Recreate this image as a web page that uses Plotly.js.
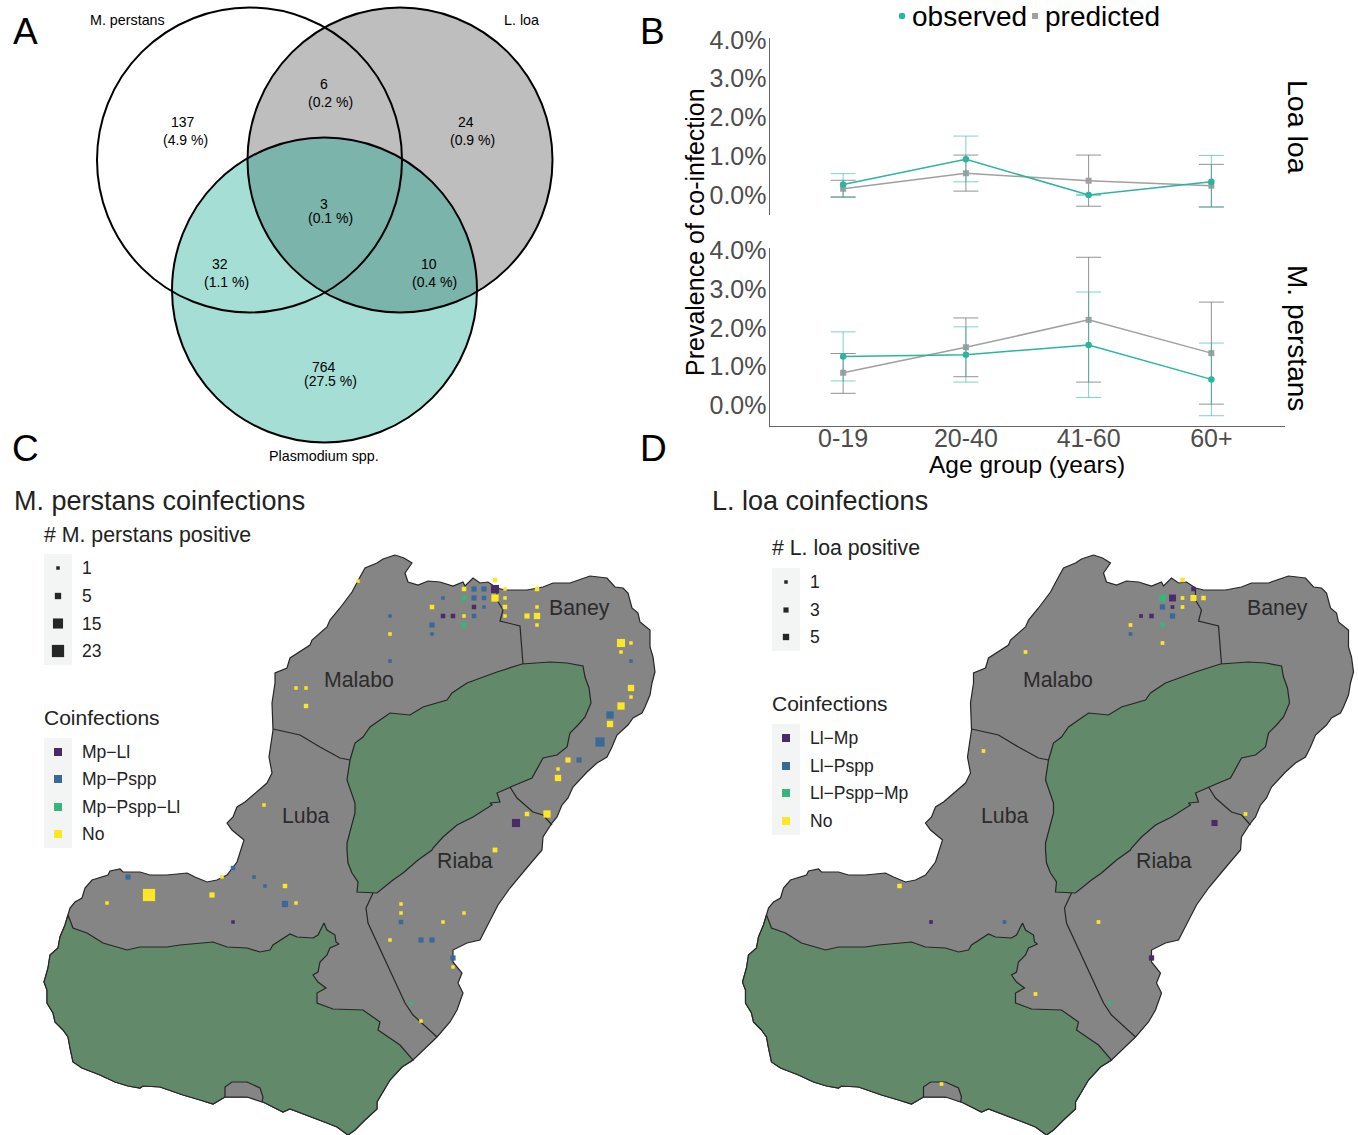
<!DOCTYPE html>
<html><head><meta charset="utf-8">
<script src="https://cdn.plot.ly/plotly-3.0.1.min.js"></script>
<style>html,body{margin:0;padding:0;background:#fff}</style></head>
<body><div id="chart" style="width:1358px;height:1135px"></div>
<script>
// ---------- Panel B data (percent) ----------
const ageGroups = ['0-19','20-40','41-60','60+'];
const loaObserved = [0.27,0.92,0.00,0.34];
const loaObservedHi = [0.55,1.52,0.00,1.02];
const loaObservedLo = [-0.04,0.34,0.00,-0.31];
const loaPredicted = [0.16,0.56,0.37,0.24];
const loaPredictedHi = [0.38,1.03,1.03,0.79];
const loaPredictedLo = [-0.06,0.10,-0.29,-0.31];
const mpObserved = [1.26,1.31,1.56,0.67];
const mpObservedHi = [1.90,2.03,2.93,1.61];
const mpObservedLo = [0.63,0.60,0.20,-0.27];
const mpPredicted = [0.84,1.50,2.21,1.35];
const mpPredictedHi = [1.34,2.26,3.83,2.67];
const mpPredictedLo = [0.31,0.74,0.60,0.03];
const percentTicks = [0,1,2,3,4];
const percentLabels = ['0.0%','1.0%','2.0%','3.0%','4.0%'];

// ---------- Panel A data ----------
const vennCounts = ['137','6','24','3','32','10','764'];
const vennShares = ['(4.9 %)','(0.2 %)','(0.9 %)','(0.1 %)','(1.1 %)','(0.4 %)','(27.5 %)'];
const vennCountX = [183,324,466,324,220,429,324];
const vennCountY = [122,84,122,204,264,264,367];
const vennShareX = [185,330,472,330,226,434,330];
const vennShareY = [140,102,140,218,282,282,381];
const vennCircleX = [249.5,400,324.5];
const vennCircleY = [160,160,290];
const vennRadius = 152.5;

// ---------- Map outlines (map units) ----------
const coastX = [395,404,412,405,408,418,428,440,453,463,465,473,480,488,497,505,527,543,553,570,590,607,615,623,628,632,638,640,650,650,653,655,652,650,645,642,633,628,617,612,607,597,587,578,573,568,562,557,552,543,542,525,510,498,488,480,467,453,453,462,458,463,457,450,437,413,402,390,377,377,365,355,348,337,327,307,290,283,263,253,247,225,220,213,200,183,160,143,140,128,115,100,82,73,70,68,63,55,53,47,47,44,48,50,58,60,65,68,70,75,82,85,92,108,110,120,123,140,150,167,187,195,207,217,227,237,242,244,232,227,233,237,245,267,272,269,273,272,275,275,287,290,310,312,327,330,340,352,360,365,377,383,395];
const coastY = [555,558,563,573,582,585,581,582,586,582,586,578,583,582,588,590,590,587,583,583,576,578,587,588,593,608,613,622,630,647,657,672,683,695,707,713,718,725,735,747,757,763,772,782,787,798,805,817,823,837,850,870,888,905,925,940,943,950,962,973,983,993,1010,1022,1037,1060,1067,1080,1102,1109,1120,1130,1135,1127,1123,1115,1109,1112,1102,1098,1097,1097,1100,1104,1100,1095,1087,1086,1088,1086,1082,1075,1068,1062,1048,1037,1030,1022,1013,1003,990,982,968,955,948,937,925,915,908,902,898,888,880,875,871,869,872,872,875,875,873,877,882,880,875,862,847,840,830,823,817,807,802,783,773,757,730,703,683,673,668,658,645,640,627,620,608,592,577,568,563,559,555];
const northReserveX = [522,550,567,583,585,589,591,585,578,570,567,557,543,538,532,520,510,497,500,490,492,473,457,443,433,432,418,403,393,377,357,358,352,348,347,347,355,355,347,350,355,363,370,390,410,423,447,452,467,497,522];
const northReserveY = [664,662,663,666,677,688,703,717,725,733,747,755,758,767,778,783,787,793,802,803,805,817,825,837,848,850,860,873,880,893,892,882,873,863,850,843,813,803,780,760,743,737,727,713,715,707,700,693,683,672,664];
const southReserveX = [68,73,87,103,127,140,167,180,213,227,247,260,270,273,290,297,313,318,324,327,335,336,339,330,327,320,318,313,318,326,317,317,333,363,380,378,400,413,402,390,377,377,365,355,348,337,327,307,290,283,263,253,247,225,220,213,200,183,160,143,140,128,115,100,82,73,70,68,63,55,53,47,47,44,48,50,58,60,65,68];
const southReserveY = [915,928,933,943,950,947,947,945,942,947,948,952,950,945,934,937,938,935,923,930,935,942,944,948,955,962,972,975,982,988,993,1003,1009,1010,1022,1030,1045,1060,1067,1080,1102,1109,1120,1130,1135,1127,1123,1115,1109,1112,1102,1098,1097,1097,1100,1104,1100,1095,1087,1086,1088,1086,1082,1075,1068,1062,1048,1037,1030,1022,1013,1003,990,982,968,955,948,937,925,915];
const enclaveX = [225,225,232,247,260,263,262,247,225];
const enclaveY = [1097,1087,1082,1082,1088,1097,1102,1097,1097];
const border1X = [497,497,503,500,520,523];
const border1Y = [588,600,610,621,626,664];
const border2X = [273,287,300,320,340,350];
const border2Y = [729,732,735,747,758,760];
const border3X = [510,517,533,543,552];
const border3Y = [787,798,812,815,825];
const border4X = [373,366,368,390,405,413,437];
const border4Y = [893,908,923,970,1003,1015,1037];
const districtNames = ['Baney','Malabo','Luba','Riaba'];
const districtX = [579,359,306,465];
const districtY = [607.5,679.5,815.5,860.5];

// ---------- Panel C sites ----------
const cMpLlX = [495,443,453,474,516,233];
const cMpLlY = [589,616,616,607,823,922];
const cMpLlN = [9,2,2,2,9,1];
const cMpPsppX = [474,484,474,484,443,484,390,474,432,432,610,600,579,390,128,233,254,265,285,401,432,421,453,631];
const cMpPsppY = [589,589,598,598,598,607,616,616,625,634,715,742,760,661,877,868,877,886,904,922,940,940,958,661];
const cMpPsppN = [3,3,3,2,1,1,1,2,3,1,7,12,3,1,3,2,1,1,5,2,3,3,3,1];
const cTripleX = [464,464,411];
const cTripleY = [598,625,1003];
const cTripleN = [3,3,1];
const cNoX = [495,464,505,537,495,505,432,505,537,464,505,527,537,537,358,390,621,631,621,631,631,621,610,568,558,558,547,527,495,296,306,306,264,149,107,212,222,285,296,401,401,464,443,390,453,421,495];
const cNoY = [580,589,589,589,598,598,607,607,607,616,616,616,616,625,581,634,643,643,652,688,697,706,724,760,769,778,814,814,850,688,688,706,805,895,903,895,877,886,903,904,913,913,922,940,967,1021,850];
const cNoN = [2,2,1,2,7,1,2,2,1,1,1,3,5,1,1,1,9,1,1,5,1,7,5,3,1,5,7,2,2,1,1,2,1,23,1,3,1,2,1,1,1,1,1,1,1,1,2];

// ---------- Panel D sites ----------
const dLlMpX = [495,474,474,442.5,453,516,232.5,453];
const dLlMpY = [589,598,607,616,616,823,922,958];
const dLlMpN = [2,5,1,1,2,4,1,3];
const dLlPsppX = [464,474,432,306];
const dLlPsppY = [607,616,634,922];
const dLlPsppN = [3,3,1,1];
const dTripleX = [464,464,411];
const dTripleY = [598,625,1003];
const dTripleN = [5,2,1];
const dNoX = [484,484,495,505,484,432,464,327,285,547,201,400,337,243];
const dNoY = [580,598,598,598,607,625,643,652,751,814,886,922,994,1084];
const dNoN = [2,1,4,2,1,1,1,1,1,1,2,1,1,1];

// ---------- Legends ----------
const cSizeCounts = [1,5,15,23];
const dSizeCounts = [1,3,5];
const cCoinfLabels = ['Mp\u2212Ll','Mp\u2212Pspp','Mp\u2212Pspp\u2212Ll','No'];
const dCoinfLabels = ['Ll\u2212Mp','Ll\u2212Pspp','Ll\u2212Pspp\u2212Mp','No'];
const coinfColors = ['#4b2a68','#39699a','#38b57c','#fde725'];

const TEAL='#2ab5a0', GREY='#a0a0a0', LAND='#858585', RES='#628a6a', EDGE='#262626';
const FONT='"Liberation Sans", Arial, sans-serif';
const OFFX = 698.5;  // D panel origin on the page

const cSize = n => 2.3*Math.sqrt(n)+1.2;
const dSize = n => 2.9+0.8*n;

const traces=[], annotations=[], shapes=[];
function txt(text,x,y,size,color,opt){
  annotations.push(Object.assign({text,x,y,xref:'x',yref:'y',showarrow:false,xanchor:'center',yanchor:'middle',
    font:{family:FONT,size,color:color||'#000'},borderpad:0},opt||{}));
}
// ----- Panel A
shapes.push({type:'circle',xref:'x',yref:'y',layer:'below',x0:vennCircleX[1]-vennRadius,x1:vennCircleX[1]+vennRadius,y0:vennCircleY[1]-vennRadius,y1:vennCircleY[1]+vennRadius,fillcolor:'#bebebe',line:{width:0}});
shapes.push({type:'circle',xref:'x',yref:'y',layer:'below',x0:vennCircleX[2]-vennRadius,x1:vennCircleX[2]+vennRadius,y0:vennCircleY[2]-vennRadius,y1:vennCircleY[2]+vennRadius,fillcolor:'rgba(5,164,139,0.36)',line:{width:0}});
vennCircleX.forEach((cx,i)=>{
  shapes.push({type:'circle',xref:'x',yref:'y',layer:'below',x0:cx-vennRadius,x1:cx+vennRadius,y0:vennCircleY[i]-vennRadius,y1:vennCircleY[i]+vennRadius,fillcolor:'rgba(0,0,0,0)',line:{width:2,color:'#000'}});
});
vennCounts.forEach((t,i)=>{txt(t,vennCountX[i],vennCountY[i],14);txt(vennShares[i],vennShareX[i],vennShareY[i],14);});
txt('M. perstans',127,20,14.3);txt('L. loa',521,20,14.3);txt('Plasmodium spp.',324,456,14.3);
[['A',25,31],['B',652,31],['C',25,448],['D',653,448]].forEach(a=>txt(a[0],a[1],a[2],37));

// ----- Panel B
function series(y,hi,lo,color,errColor,sym,xa,ya,name,size){
  traces.push({type:'scatter',mode:'lines+markers',x:ageGroups,y:y,name,xaxis:xa,yaxis:ya,showlegend:false,hoverinfo:'skip',
    line:{color,width:1.5},marker:{color,size:size,symbol:sym,opacity:1},
    error_y:{type:'data',symmetric:false,array:hi.map((v,i)=>v-y[i]),arrayminus:y.map((v,i)=>v-lo[i]),color:errColor,thickness:1,width:12.5}});
}
const gErr='rgba(120,120,120,0.8)', tErr='rgba(42,181,160,0.6)';
series(loaPredicted,loaPredictedHi,loaPredictedLo,GREY,gErr,'square','x2','y2','predicted',6);
series(loaObserved,loaObservedHi,loaObservedLo,TEAL,tErr,'circle','x2','y2','observed',6.5);
series(mpPredicted,mpPredictedHi,mpPredictedLo,GREY,gErr,'square','x3','y3','predicted',6);
series(mpObserved,mpObservedHi,mpObservedLo,TEAL,tErr,'circle','x3','y3','observed',6.5);
txt('observed',969,16,28,'#000');txt('predicted',1102,16,28,'#000');
traces.push({type:'scatter',mode:'markers',x:[902],y:[16],marker:{color:TEAL,size:6.5,symbol:'circle',opacity:1},xaxis:'x',yaxis:'y',showlegend:false,hoverinfo:'skip'});
traces.push({type:'scatter',mode:'markers',x:[1035],y:[16],marker:{color:GREY,size:6,symbol:'square',opacity:1},xaxis:'x',yaxis:'y',showlegend:false,hoverinfo:'skip'});
txt('Prevalence of co-infection',695,232,25,'#000',{textangle:-90});
txt('Age group (years)',1027,464,24.5,'#000');
txt('Loa loa',1298,127,28.5,'#000',{textangle:90});
txt('M. perstans',1298,338,28,'#000',{textangle:90});

// ----- Map panels
function poly(xs,ys,fill,xa,width){
  traces.push({type:'scatter',mode:'lines',x:xs,y:ys,xaxis:xa,yaxis:'y',fill:fill?'toself':'none',fillcolor:fill||undefined,
    line:{color:EDGE,width:width||1.2},showlegend:false,hoverinfo:'skip'});
}
function map(xa){
  poly(coastX,coastY,LAND,xa);
  poly(northReserveX,northReserveY,RES,xa);
  poly(southReserveX,southReserveY,RES,xa);
  poly(enclaveX,enclaveY,LAND,xa);
  poly(border1X,border1Y,null,xa);poly(border2X,border2Y,null,xa);poly(border3X,border3Y,null,xa);poly(border4X,border4Y,null,xa);
}
function sites(xs,ys,ns,color,xa,scale){
  traces.push({type:'scatter',mode:'markers',x:xs,y:ys,xaxis:xa,yaxis:'y',showlegend:false,hoverinfo:'skip',
    marker:{symbol:'square',color,size:ns.map(scale),opacity:1,line:{width:0}}});
}
map('x');map('x4');
sites(cNoX,cNoY,cNoN,coinfColors[3],'x',cSize);
sites(cMpPsppX,cMpPsppY,cMpPsppN,coinfColors[1],'x',cSize);
sites(cTripleX,cTripleY,cTripleN,coinfColors[2],'x',cSize);
sites(cMpLlX,cMpLlY,cMpLlN,coinfColors[0],'x',cSize);
sites(dNoX,dNoY,dNoN,coinfColors[3],'x4',dSize);
sites(dLlPsppX,dLlPsppY,dLlPsppN,coinfColors[1],'x4',dSize);
sites(dTripleX,dTripleY,dTripleN,coinfColors[2],'x4',dSize);
sites(dLlMpX,dLlMpY,dLlMpN,coinfColors[0],'x4',dSize);
districtNames.forEach((n,i)=>{
  txt(n,districtX[i],districtY[i],21.3,'#2b2b2b');
  txt(n,districtX[i]+OFFX,districtY[i],21.3,'#2b2b2b');
});

// ----- Map legends
function legend(x0,titleText,titleX,sTitleText,sTitleY,sRows,sCounts,scale,cTitleY,cRows,cLabels){
  txt(titleText,titleX,501,27,'#222',{xanchor:'left'});
  txt(sTitleText,x0-1,sTitleY,21.3,'#222',{xanchor:'left'});
  txt('Coinfections',x0-1,cTitleY,21,'#222',{xanchor:'left'});
  shapes.push({type:'rect',xref:'x',yref:'y',layer:'below',x0:x0,x1:x0+28,y0:sRows[0]-14,y1:sRows[sRows.length-1]+14,fillcolor:'#f2f5f4',line:{width:0}});
  shapes.push({type:'rect',xref:'x',yref:'y',layer:'below',x0:x0,x1:x0+28,y0:cRows[0]-14,y1:cRows[cRows.length-1]+14,fillcolor:'#f2f5f4',line:{width:0}});
  traces.push({type:'scatter',mode:'markers',x:sRows.map(()=>x0+14),y:sRows,xaxis:'x',yaxis:'y',showlegend:false,hoverinfo:'skip',
    marker:{symbol:'square',color:'#262626',size:sCounts.map(scale),opacity:1,line:{width:0}}});
  traces.push({type:'scatter',mode:'markers',x:cRows.map(()=>x0+14),y:cRows,xaxis:'x',yaxis:'y',showlegend:false,hoverinfo:'skip',
    marker:{symbol:'square',color:coinfColors,size:8,opacity:1,line:{width:0}}});
  sCounts.forEach((c,i)=>txt(String(c),x0+37,sRows[i],17.5,'#222',{xanchor:'left'}));
  cLabels.forEach((c,i)=>txt(c,x0+37,cRows[i],17.5,'#222',{xanchor:'left'}));
}
legend(44,'M. perstans coinfections',13,'# M. perstans positive',534.5,[568,596,623.5,651],cSizeCounts,cSize,717.5,[752,779,807,834],cCoinfLabels);
legend(772,'L. loa coinfections',711,'# L. loa positive',547.5,[582,610,637],dSizeCounts,cSize,703.5,[738,766,793,821],dCoinfLabels);

const hidden={visible:false,fixedrange:true};
const bx={domain:[769.5/1358,1285/1358],range:[-0.6,3.6],type:'category',categoryorder:'array',categoryarray:ageGroups,fixedrange:true,showgrid:false,zeroline:false};
const by={showgrid:false,zeroline:false,showline:true,linecolor:'#666',linewidth:1,tickmode:'array',tickvals:percentTicks,ticktext:percentLabels,
  tickfont:{family:FONT,size:25,color:'#4d4d4d'},ticks:'',ticklabelstandoff:-3,fixedrange:true};
const layout={
  width:1358,height:1135,margin:{l:0,r:0,t:0,b:0,pad:0},paper_bgcolor:'#fff',plot_bgcolor:'rgba(0,0,0,0)',showlegend:false,
  xaxis:Object.assign({domain:[0,1],range:[0,1358]},hidden),
  yaxis:Object.assign({domain:[0,1],range:[1135,0]},hidden),
  xaxis4:Object.assign({domain:[OFFX/1358,1],range:[0,1358-OFFX],anchor:'y'},hidden),
  xaxis2:Object.assign({},bx,{anchor:'y2',visible:false}),
  yaxis2:Object.assign({},by,{anchor:'x2',domain:[1-215/1135,1-38/1135],range:[-0.516,4.05]}),
  xaxis3:Object.assign({},bx,{anchor:'y3',showline:true,linecolor:'#666',linewidth:1,ticks:'',ticklabelstandoff:-10,tickfont:{family:FONT,size:25,color:'#4d4d4d'}}),
  yaxis3:Object.assign({},by,{anchor:'x3',domain:[1-426/1135,1-248/1135],range:[-0.536,4.07]}),
  shapes,annotations
};
Plotly.newPlot('chart',traces,layout,{displayModeBar:false,staticPlot:true});
</script></body></html>
